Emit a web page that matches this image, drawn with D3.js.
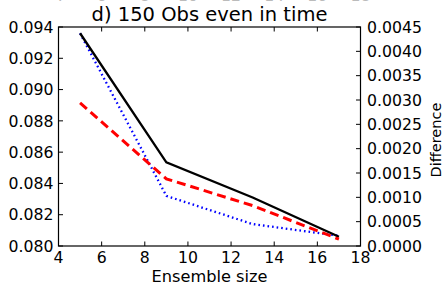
<!DOCTYPE html>
<html>
<head>
<meta charset="utf-8">
<script src="https://cdn.jsdelivr.net/npm/d3@7"></script>
<style>
  body { margin: 0; background: #fff; }
  svg { display: block; font-family: "DejaVu Sans", sans-serif; }
</style>
</head>
<body>
<svg width="443" height="285"></svg>
<script>
// data
var ensembleSize = [5, 9, 13, 17];
var rmse = [0.0936, 0.08535, 0.0831, 0.08059];        // black, left axis
var diffDashed = [0.00294, 0.00138, 0.00083, 0.00014]; // red, right axis
var diffDotted = [0.00437, 0.00103, 0.00045, 0.00021]; // blue, right axis

var xTicks = [4, 6, 8, 10, 12, 14, 16, 18];
var leftTicks = [0.080, 0.082, 0.084, 0.086, 0.088, 0.090, 0.092, 0.094];
var rightTicks = [0, 0.0005, 0.001, 0.0015, 0.002, 0.0025, 0.003, 0.0035, 0.004, 0.0045];

// plot box ("top" is taken by window.top, so use other names)
var pLeft = 58.5, pRight = 360.5, pTop = 27, pBottom = 246;
var tick = 4.5, fs = 15.7;

var svg = d3.select("svg");

var x = d3.scaleLinear().domain([4, 18]).range([pLeft, pRight]);
var yL = d3.scaleLinear().domain([0.080, 0.094]).range([pBottom, pTop]);
var yR = d3.scaleLinear().domain([0, 0.0045]).range([pBottom, pTop]);

// bits of the panel above, cut off at the top edge
svg.append("g").selectAll("text")
  .data(xTicks).enter().append("text")
  .attr("x", function(d){ return x(d); })
  .attr("y", 0.8)
  .attr("text-anchor", "middle")
  .attr("font-size", fs)
  .attr("fill", "#bbb")
  .text(function(d){ return d; });

// ticks (inward)
var tg = svg.append("g").attr("stroke", "#000").attr("stroke-width", 1);
xTicks.forEach(function(d){
  tg.append("line").attr("x1", x(d)).attr("x2", x(d)).attr("y1", pBottom).attr("y2", pBottom - tick);
  tg.append("line").attr("x1", x(d)).attr("x2", x(d)).attr("y1", pTop).attr("y2", pTop + tick);
});
leftTicks.forEach(function(d){
  tg.append("line").attr("x1", pLeft).attr("x2", pLeft + tick).attr("y1", yL(d)).attr("y2", yL(d));
});
rightTicks.forEach(function(d){
  tg.append("line").attr("x1", pRight).attr("x2", pRight - tick).attr("y1", yR(d)).attr("y2", yR(d));
});

// lines
var lineL = d3.line().x(function(d, i){ return x(ensembleSize[i]); }).y(function(d){ return yL(d); });
var lineR = d3.line().x(function(d, i){ return x(ensembleSize[i]); }).y(function(d){ return yR(d); });

svg.append("path").datum(diffDotted)
  .attr("d", lineR).attr("fill", "none")
  .attr("stroke", "#0000ff").attr("stroke-width", 2.3)
  .attr("stroke-dasharray", "1.6,3");
svg.append("path").datum(rmse)
  .attr("d", lineL).attr("fill", "none")
  .attr("stroke", "#000").attr("stroke-width", 2.3);
svg.append("path").datum(diffDashed)
  .attr("d", lineR).attr("fill", "none")
  .attr("stroke", "#ff0000").attr("stroke-width", 3)
  .attr("stroke-dasharray", "9,5");

// frame
svg.append("rect")
  .attr("x", pLeft).attr("y", pTop)
  .attr("width", pRight - pLeft).attr("height", pBottom - pTop)
  .attr("fill", "none").attr("stroke", "#000").attr("stroke-width", 1.2);

// tick labels
svg.append("g").selectAll("text")
  .data(xTicks).enter().append("text")
  .attr("x", function(d){ return x(d); })
  .attr("y", 263)
  .attr("text-anchor", "middle")
  .attr("font-size", fs)
  .text(function(d){ return d; });

svg.append("g").selectAll("text")
  .data(leftTicks).enter().append("text")
  .attr("x", 53.5)
  .attr("y", function(d){ return yL(d) + 5.7; })
  .attr("text-anchor", "end")
  .attr("font-size", fs)
  .text(function(d){ return d.toFixed(3); });

svg.append("g").selectAll("text")
  .data(rightTicks).enter().append("text")
  .attr("x", 367)
  .attr("y", function(d){ return yR(d) + 5.7; })
  .attr("text-anchor", "start")
  .attr("font-size", fs)
  .text(function(d){ return d.toFixed(4); });

// titles
svg.append("text")
  .attr("x", (pLeft + pRight) / 2).attr("y", 21)
  .attr("text-anchor", "middle")
  .attr("font-size", 19.5)
  .text("d) 150 Obs even in time");

svg.append("text")
  .attr("x", (pLeft + pRight) / 2).attr("y", 282)
  .attr("text-anchor", "middle")
  .attr("font-size", 16.2)
  .text("Ensemble size");

svg.append("text")
  .attr("transform", "translate(441,140) rotate(-90)")
  .attr("text-anchor", "middle")
  .attr("font-size", 14.5)
  .text("Difference");
</script>
</body>
</html>
